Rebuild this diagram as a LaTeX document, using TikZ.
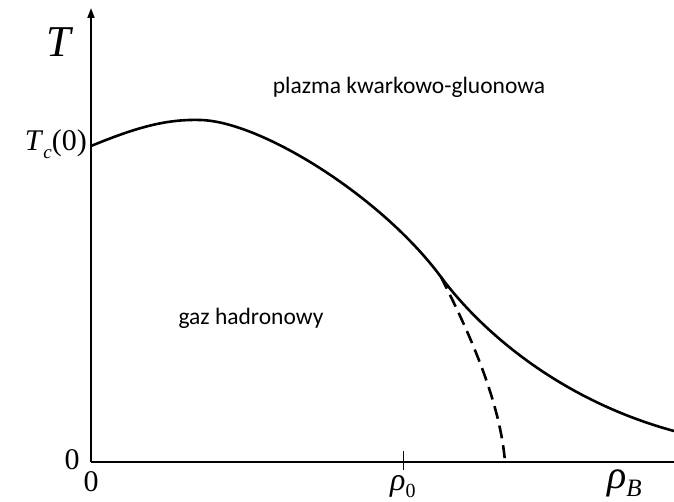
\documentclass[tikz,border=0pt]{standalone}
\usepackage{fontspec}
\setmainfont{Liberation Serif}
\newfontfamily\labelsans{Carlito}
\usetikzlibrary{arrows.meta}
\begin{document}
\begin{tikzpicture}[x=1pt,y=-1pt,
  axis/.style={line width=1.8pt},
  curve/.style={line width=2.6pt,line join=round},
  region/.style={font=\labelsans\fontsize{23.5}{28}\selectfont,inner sep=0pt},
  serif/.style={inner sep=0pt}]
\useasboundingbox (0,0) rectangle (674,502);
\coordinate (O) at (91,462);
\coordinate (Ytop) at (91,8);
\coordinate (Xend) at (674,462);
\draw[axis,-{Triangle[length=10pt,width=7pt]}] (O) -- (Ytop);
\draw[axis] (O) -- (Xend);
\coordinate (tickTop) at (403,451);
\coordinate (tickBot) at (403,470);
\draw[line width=0.8pt,black!80!blue] (tickTop) -- (tickBot);
\coordinate (c0) at (91,146);
\coordinate (cpeak) at (200,120);
\coordinate (cfork) at (441,277);
\coordinate (cend) at (674,431);
\coordinate (dend) at (505,462);
\draw[curve] (c0) .. controls (135,128) and (165,119) .. (cpeak)
  .. controls (260,121) and (381,196) .. (cfork)
  .. controls (481,331) and (560,400) .. (cend);
\draw[curve,dash pattern=on 13pt off 7pt] (cfork) .. controls (468,330) and (500,400) .. (dend);
\node[serif,font=\fontsize{44}{48}\selectfont\itshape] (T) at (59,42) {T};
\node[serif,font=\fontsize{30}{34}\selectfont,anchor=base east] (Tc) at (87,151) {\textit{T}\raisebox{-0.25em}{\fontsize{19}{20}\selectfont\itshape c}(0)};
\node[serif,font=\fontsize{30}{34}\selectfont,anchor=base] (zeroY) at (72,469) {0};
\node[serif,font=\fontsize{30}{34}\selectfont,anchor=base] (zeroX) at (91,491) {0};
\node[serif,font=\fontsize{32}{36}\selectfont,anchor=base west] (rho0) at (390,490) {\textit{ρ}\raisebox{-0.22em}{\fontsize{20}{22}\selectfont 0}};
\node[serif,font=\fontsize{40}{44}\selectfont,anchor=base west] (rhoB) at (607,488) {\textit{ρ}\raisebox{-0.2em}{\fontsize{25}{27}\selectfont\itshape B}};
\node[region] (qgp) at (409,87) {plazma kwarkowo-gluonowa};
\node[region] (hg) at (251,318) {gaz hadronowy};
\end{tikzpicture}
\end{document}
